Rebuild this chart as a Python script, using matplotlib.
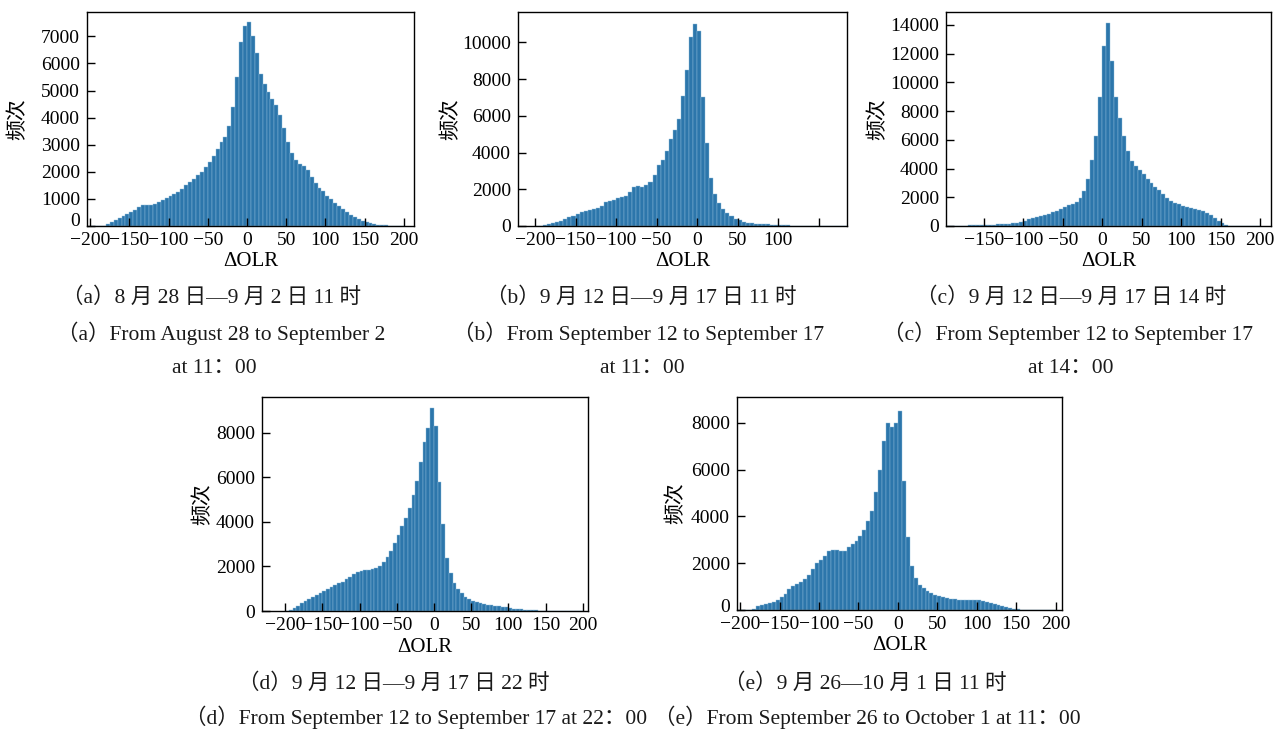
import numpy as np
import matplotlib
matplotlib.use("Agg")
import matplotlib.pyplot as plt
import matplotlib.transforms as mtransforms

# ---------------- data (histogram counts, 5-unit bins from -200 to 200) ----------------
bin_edges = np.arange(-200, 201, 5)

counts_a = [0, 0, 0, 10, 60, 130, 220, 300, 380, 450, 530, 600, 700, 760, 770, 790,
            830, 900, 960, 1030, 1090, 1170, 1270, 1380, 1500, 1620, 1740, 1870, 2000, 2170,
            2360, 2580, 2850, 3100, 3300, 3700, 4400, 5500, 6800, 7400, 7520, 7000, 6400, 5600,
            5250, 4950, 4700, 4450, 4100, 3600, 3100, 2700, 2450, 2300, 2200, 2050, 1800, 1600,
            1420, 1280, 1120, 980, 840, 720, 610, 500, 410, 330, 250, 190, 140, 100, 75, 55,
            40, 25, 12, 5, 0, 0]

counts_b = [0, 15, 50, 100, 150, 210, 290, 380, 480, 570, 650, 740, 830, 880, 900, 960,
            1100, 1280, 1360, 1400, 1500, 1600, 1640, 1850, 2150, 2180, 2140, 2250, 2380, 2800,
            3300, 3600, 4100, 4750, 5250, 5800, 7100, 8500, 10300, 11000, 10600, 7000, 4500, 2600,
            1750, 1250, 950, 700, 520, 390, 300, 240, 190, 160, 130, 115, 100, 85, 70, 55,
            45, 35, 28, 22, 15, 10, 6, 4, 2, 0, 0, 0, 0, 0, 0, 0, 0, 0, 0, 0]

counts_c = [0, 0, 0, 10, 20, 30, 40, 50, 60, 70, 80, 90, 100, 110, 125, 140,
            155, 175, 200, 260, 380, 470, 550, 610, 690, 770, 850, 940, 1040, 1160,
            1300, 1450, 1530, 1650, 1920, 2450, 3300, 4600, 6300, 9000, 12500, 14100, 11500, 9000,
            7500, 6300, 5200, 4550, 4200, 3900, 3600, 3300, 3000, 2750, 2500, 2250, 1950, 1730,
            1600, 1500, 1400, 1300, 1220, 1170, 1100, 1020, 920, 750, 580, 350, 180, 70, 20, 0,
            0, 0, 0, 0, 0, 0]

counts_d = [0, 30, 130, 230, 340, 440, 540, 630, 720, 800, 890, 980, 1060, 1150, 1240, 1320,
            1420, 1530, 1640, 1740, 1800, 1840, 1860, 1880, 1930, 2000, 2200, 2420, 2700, 3050,
            3400, 3800, 4150, 4600, 5200, 5850, 6700, 7600, 8200, 9100, 8300, 5800, 3900, 2400,
            1700, 1250, 980, 800, 650, 560, 470, 390, 340, 300, 270, 250, 230, 210, 180, 160,
            130, 110, 95, 80, 65, 55, 40, 25, 12, 0, 0, 0, 0, 0, 0, 0, 0, 0, 0, 0]

counts_e = [0, 0, 0, 30, 150, 230, 260, 300, 360, 440, 540, 700, 900, 1020, 1100, 1200,
            1320, 1480, 1750, 2000, 2150, 2300, 2520, 2580, 2570, 2540, 2520, 2680, 2820, 2950,
            3150, 3400, 3800, 4250, 5050, 6000, 7200, 8000, 7800, 8000, 8500, 5500, 3100, 1900,
            1350, 1080, 920, 830, 740, 660, 610, 570, 530, 490, 450, 430, 415, 410, 420, 440,
            430, 400, 360, 310, 250, 200, 150, 120, 85, 55, 30, 15, 8, 0, 0, 0, 0, 0, 0, 0]

xticks_a = [-200, -150, -100, -50, 0, 50, 100, 150, 200]
xticks_b = [-200, -150, -100, -50, 0, 50, 100, 150]
xticklabels_b = ["\u2212200", "\u2212150", "\u2212100", "\u221250", "0", "50", "100", ""]
xticks_c = [-150, -100, -50, 0, 50, 100, 150, 200]

yticks_a = [0, 1000, 2000, 3000, 4000, 5000, 6000, 7000]
yticks_b = [0, 2000, 4000, 6000, 8000, 10000]
yticks_c = [0, 2000, 4000, 6000, 8000, 10000, 12000, 14000]
yticks_d = [0, 2000, 4000, 6000, 8000]
yticks_e = [0, 2000, 4000, 6000, 8000]

captions = [
    ("（a）8 月 28 日—9 月 2 日 11 时", 212, 298),
    ("（a）From August 28 to September 2", 221, 333),
    ("at 11：00", 214, 368),
    ("（b）9 月 12 日—9 月 17 日 11 时", 641, 298),
    ("（b）From September 12 to September 17", 639, 333),
    ("at 11：00", 642, 368),
    ("（c）9 月 12 日—9 月 17 日 14 时", 1071, 298),
    ("（c）From September 12 to September 17", 1068, 333),
    ("at 14：00", 1071, 368),
    ("（d）9 月 12 日—9 月 17 日 22 时", 394, 684),
    ("（d）From September 12 to September 17 at 22：00", 416, 717),
    ("（e）9 月 26—10 月 1 日 11 时", 865, 684),
    ("（e）From September 26 to October 1 at 11：00", 867, 717),
]

# ---------------- figure ----------------
W, H = 1276, 729
FAM = ["Liberation Serif", "Noto Sans CJK SC", "DejaVu Sans"]
plt.rcParams["font.family"] = FAM
plt.rcParams["axes.unicode_minus"] = True

fig = plt.figure(figsize=(W / 100, H / 100), dpi=100)

def rect(l, t, r, b):
    return [l / W, 1 - b / H, (r - l) / W, (b - t) / H]

# rect, counts, xlim, ymax, xticks, xticklabels, yticks, ylabel offset px, raise zero label px
panels = [
    (rect(87, 12, 414, 226), counts_a, (-204, 213), 7900, xticks_a, None, yticks_a, -70, 6),
    (rect(518, 12, 847, 226), counts_b, (-221, 185), 11650, xticks_b, xticklabels_b, yticks_b, -68, 0),
    (rect(946, 12, 1271, 226), counts_c, (-198, 214), 14900, xticks_c, None, yticks_c, -69, 0),
    (rect(262, 397, 588, 611), counts_d, (-231, 207), 9600, xticks_a, None, yticks_d, -60, 0),
    (rect(737, 397, 1062, 610), counts_e, (-204, 208), 9100, xticks_a, None, yticks_e, -62, 5),
]

centers = (bin_edges[:-1] + bin_edges[1:]) / 2
BAR = "#2c76ab"
STRIPE = "#8fbcdb"

for r, counts, xl, ymax, xt, xtl, yt, ylab_px, zshift in panels:
    ax = fig.add_axes(r)
    ax.bar(centers, counts, width=5, color=BAR, edgecolor=STRIPE, linewidth=0.3,
           align="center")
    ax.set_xlim(*xl)
    ax.set_ylim(0, ymax)
    ax.set_xticks(xt)
    if xtl is not None:
        ax.set_xticklabels(xtl)
    ax.set_yticks(yt)
    ax.tick_params(direction="in", length=6, width=1, labelsize=14, colors="black")
    ax.tick_params(axis="x", pad=4)
    ax.tick_params(axis="y", pad=5)
    ylabels = ax.get_yticklabels()
    for lab in ylabels:
        lab.set_va("center_baseline")
    if zshift:
        off = mtransforms.ScaledTranslation(0, zshift / 100, fig.dpi_scale_trans)
        ylabels[0].set_transform(ylabels[0].get_transform() + off)
    for s in ax.spines.values():
        s.set_linewidth(1.0)
        s.set_color("black")
    ax.set_xlabel("ΔOLR", fontsize=15)
    ax.set_ylabel("频次", fontsize=15, family=["Noto Sans CJK SC"])
    wpx = r[2] * W
    hpx = r[3] * H
    ax.xaxis.set_label_coords(0.5, -36 / hpx)
    ax.yaxis.set_label_coords(ylab_px / wpx, 0.5)
    ax.xaxis.label.set_va("center")
    ax.yaxis.label.set_va("center")

for txt, x, y in captions:
    fig.text(x / W, 1 - y / H, txt, ha="center", va="center", fontsize=15.5,
             family=FAM, color="#1a1a1a")

fig.savefig("out.png", dpi=100)
